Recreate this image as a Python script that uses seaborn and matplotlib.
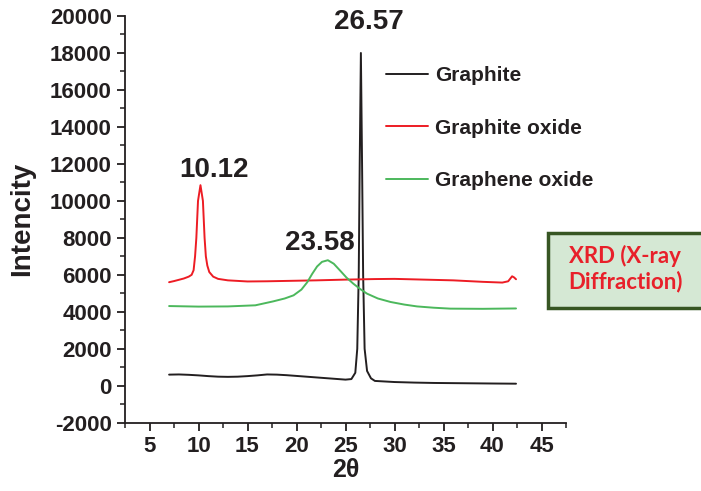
import matplotlib
matplotlib.use("Agg")
import matplotlib.pyplot as plt
import seaborn as sns
from matplotlib.patches import Rectangle
from matplotlib.ticker import MultipleLocator

# values
graphite_x = [7, 8, 9, 10, 11, 12, 13, 14, 15, 16, 17, 18, 19, 20, 21, 22, 23, 24,
              25, 25.6, 26.0, 26.2, 26.35, 26.45, 26.57, 26.69, 26.8, 26.95, 27.2,
              27.6, 28, 29, 30, 32, 34, 36, 38, 40, 42.4]
graphite_y = [600, 610, 590, 560, 520, 490, 480, 490, 520, 560, 610, 600, 570, 530,
              490, 450, 410, 370, 330, 360, 700, 2000, 6000, 12000, 18000, 12000,
              6000, 2000, 800, 400, 260, 230, 200, 170, 150, 140, 130, 120, 110]

oxide_x = [7, 7.5, 8, 8.5, 9, 9.3, 9.5, 9.65, 9.78, 9.95, 10.2, 10.45, 10.62,
           10.75, 10.9, 11.1, 11.5, 12, 13, 15, 17, 20, 22, 25, 28, 30, 33, 36,
           39, 41, 41.6, 42.0, 42.2, 42.4]
oxide_y = [5600, 5660, 5730, 5800, 5900, 6000, 6250, 7000, 8000, 10000, 10850,
           10000, 8000, 7000, 6500, 6150, 5900, 5780, 5700, 5640, 5650, 5680,
           5700, 5740, 5770, 5780, 5740, 5700, 5620, 5580, 5650, 5920, 5860, 5760]

graphene_x = [7, 10, 13, 15.8, 17.6, 18.8, 19.7, 20.5, 21.1, 21.6, 22.1, 22.6,
              23.2, 23.8, 24.5, 25.1, 25.8, 26.5, 27.2, 28.3, 29.6, 31, 32.3,
              34, 35.7, 39, 42.4]
graphene_y = [4310, 4280, 4290, 4350, 4560, 4720, 4890, 5200, 5600, 6050, 6450,
              6700, 6790, 6600, 6200, 5850, 5520, 5230, 4980, 4720, 4530, 4390,
              4290, 4220, 4170, 4160, 4180]

series_names = ["Graphite", "Graphite oxide", "Graphene oxide"]
series_colors = ["#231f20", "#ed1c24", "#4cb85c"]

peak_labels = ["26.57", "10.12", "23.58"]
peak_label_x = [27.35, 11.6, 22.35]
peak_label_y = [19650, 11660, 7710]

x_ticks = [5, 10, 15, 20, 25, 30, 35, 40, 45]
y_ticks = list(range(-2000, 20001, 2000))

sns.set_style("ticks")
plt.rcParams["font.family"] = ["Liberation Sans", "DejaVu Sans"]
plt.rcParams["font.weight"] = "bold"
plt.rcParams["axes.unicode_minus"] = False

ink = "#231f20"
fig = plt.figure(figsize=(7.01, 4.91), dpi=100)
ax = fig.add_axes([125 / 701, 1 - 422.7 / 491, (566 - 125) / 701, (422.7 - 16) / 491])

data = [(graphite_x, graphite_y), (oxide_x, oxide_y), (graphene_x, graphene_y)]
for (xs, ys), name, col in zip(data, series_names, series_colors):
    sns.lineplot(x=xs, y=ys, ax=ax, color=col, linewidth=1.4, label=name, sort=False)

for txt, tx, ty in zip(peak_labels, peak_label_x, peak_label_y):
    ax.text(tx, ty, txt, ha="center", va="center", fontsize=20,
            fontweight="bold", color=ink)

ax.set_xlim(2.5, 47.5)
ax.set_ylim(-2000, 20000)
ax.set_xticks(x_ticks)
ax.set_yticks(y_ticks)
ax.xaxis.set_minor_locator(MultipleLocator(2.5))
ax.yaxis.set_minor_locator(MultipleLocator(1000))
ax.tick_params(which="major", length=6, width=1.3, color=ink, labelsize=16,
               labelcolor=ink, direction="out")
ax.tick_params(which="minor", length=3.5, width=1.1, color=ink, direction="out")
for lab in ax.get_xticklabels() + ax.get_yticklabels():
    lab.set_fontweight("bold")
sns.despine(ax=ax)
for sp in ["left", "bottom"]:
    ax.spines[sp].set_linewidth(1.3)
    ax.spines[sp].set_color(ink)

ax.set_xlabel("2θ", fontsize=18, fontweight="bold", color=ink, labelpad=1)
ax.set_ylabel("Intencity", fontsize=20, fontweight="bold", color=ink, labelpad=11)

ax.legend(loc="upper left", bbox_to_anchor=(386 / 701, 1 - 66 / 491),
          bbox_transform=fig.transFigure, frameon=False,
          handlelength=2.0, handletextpad=0.35, labelspacing=1.62,
          borderpad=0, borderaxespad=0,
          prop={"weight": "bold", "size": 15})
for t in ax.get_legend().get_texts():
    t.set_color(ink)

# annotation box on the right
box = Rectangle((548 / 701, 1 - 308 / 491), 170 / 701, 75 / 491,
                transform=fig.transFigure, facecolor="#d5e8d4",
                edgecolor="#375623", linewidth=2.5, clip_on=False)
fig.patches.append(box)
fig.text(625 / 701, 1 - 269 / 491, "XRD (X-ray\nDiffraction)", ha="center",
         va="center", fontsize=16, fontweight="bold", color="#e8202a",
         family=["Lato", "DejaVu Sans"], linespacing=1.2)

fig.savefig("out.png", dpi=100)
